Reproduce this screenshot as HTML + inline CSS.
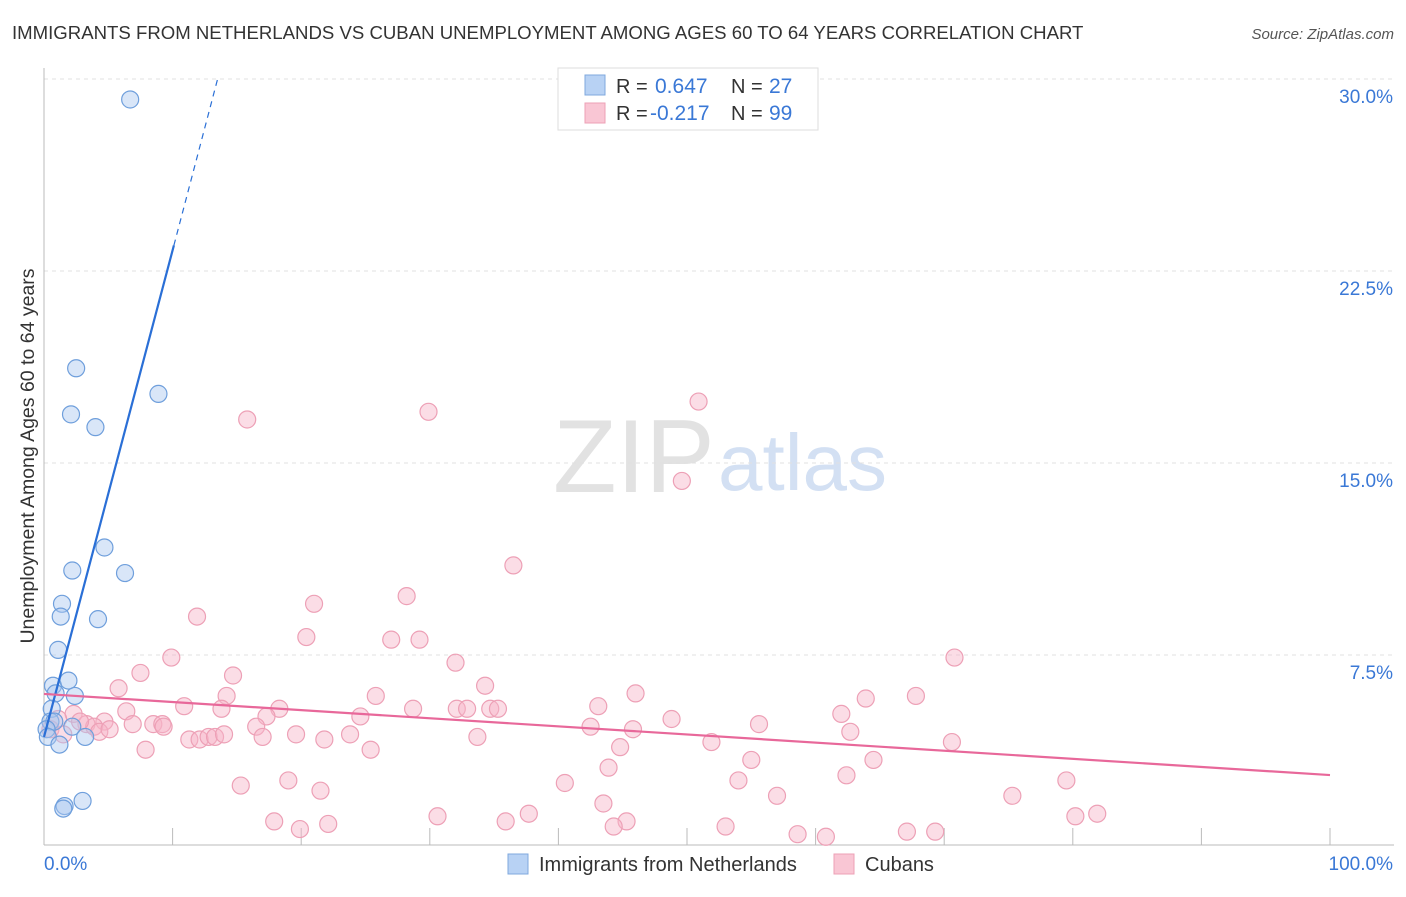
<!DOCTYPE html>
<html><head><meta charset="utf-8"><style>
body{margin:0;background:#fff;font-family:"Liberation Sans",sans-serif}
svg text{font-family:"Liberation Sans",sans-serif}
</style></head><body>
<svg id="chart" width="1406" height="892">
<text x="12" y="39" font-size="18.6" fill="#333">IMMIGRANTS FROM NETHERLANDS VS CUBAN UNEMPLOYMENT AMONG AGES 60 TO 64 YEARS CORRELATION CHART</text>
<text x="1394" y="39" font-size="15" fill="#555" text-anchor="end" font-style="italic">Source: ZipAtlas.com</text>
<text x="553" y="492" font-size="104" fill="#e2e2e2" font-family="Liberation Serif">ZIP</text>
<text x="718" y="490" font-size="80" fill="#d3e0f3">atlas</text>
<g id="grid"></g><g id="axes"></g><g id="pts"></g><g id="lines"></g>
<text x="34" y="456" font-size="19.5" fill="#333" text-anchor="middle" transform="rotate(-90 34 456)">Unemployment Among Ages 60 to 64 years</text>
<g>
<rect x="558" y="68" width="260" height="62" fill="#fff" stroke="#ddd"/>
<rect x="585" y="75" width="20" height="20" fill="#b8d2f4" stroke="#7fa8de"/>
<rect x="585" y="103" width="20" height="20" fill="#f9c6d4" stroke="#eda0b6"/>
<text x="616" y="93" font-size="20" fill="#333">R =</text><text x="655" y="93" font-size="21" fill="#3a78d6">0.647</text>
<text x="731" y="93" font-size="20" fill="#333">N =</text><text x="769" y="93" font-size="21" fill="#3a78d6">27</text>
<text x="616" y="120" font-size="20" fill="#333">R =</text><text x="650" y="120" font-size="21" fill="#3a78d6">-0.217</text>
<text x="731" y="120" font-size="20" fill="#333">N =</text><text x="769" y="120" font-size="21" fill="#3a78d6">99</text>
</g>
<g>
<rect x="508" y="854" width="20" height="20" fill="#b8d2f4" stroke="#7fa8de"/>
<text x="539" y="871" font-size="20" fill="#333">Immigrants from Netherlands</text>
<rect x="834" y="854" width="20" height="20" fill="#f9c6d4" stroke="#eda0b6"/>
<text x="865" y="871" font-size="20" fill="#333">Cubans</text>
</g>
</svg>
<script>
const yTicks=[7.5,15,22.5,30];
const yTickLabels=["7.5%","15.0%","22.5%","30.0%"];
const xTickLabels=["0.0%","100.0%"];
const blueX=[6.7,2.5,2.1,8.9,4.0,4.7,2.2,6.3,1.4,1.3,4.2,1.1,0.7,1.9,0.9,2.4,0.6,0.5,0.8,0.2,2.2,3.2,0.3,1.2,1.6,1.5,3.0];
const blueY=[29.2,18.7,16.9,17.7,16.4,11.7,10.8,10.7,9.5,9.0,8.9,7.7,6.3,6.5,6.0,5.9,5.4,4.9,4.9,4.6,4.7,4.3,4.3,4.0,1.6,1.5,1.8];
const pinkX=[15.8,29.9,50.9,49.6,36.5,11.9,21.0,28.2,20.4,27.0,29.2,9.9,7.5,32.0,70.8,14.7,5.8,34.3,14.2,25.8,46.0,67.8,63.9,10.9,18.3,13.8,28.7,32.1,32.9,34.7,35.3,43.1,6.4,2.3,1.1,24.6,17.3,62.0,3.3,4.7,6.9,8.5,9.2,9.3,16.5,48.8,55.6,42.5,45.8,3.9,4.3,23.8,19.6,11.3,12.1,12.8,13.3,21.8,33.7,62.7,51.9,70.6,7.9,25.4,44.8,55.0,64.5,43.9,15.3,19.0,54.0,62.4,40.5,79.5,21.5,57.0,75.3,43.5,37.7,30.6,81.9,80.2,17.9,35.9,45.3,44.3,22.1,53.0,19.9,67.1,69.3,58.6,60.8,0.5,1.5,2.8,5.1,14.0,17.0];
const pinkY=[16.7,17.0,17.4,14.3,11.0,9.0,9.5,9.8,8.2,8.1,8.1,7.4,6.8,7.2,7.4,6.7,6.2,6.3,5.9,5.9,6.0,5.9,5.8,5.5,5.4,5.4,5.4,5.4,5.4,5.4,5.4,5.5,5.3,5.2,5.0,5.1,5.1,5.2,4.8,4.9,4.8,4.8,4.8,4.7,4.7,5.0,4.8,4.7,4.6,4.7,4.5,4.4,4.4,4.2,4.2,4.3,4.3,4.2,4.3,4.5,4.1,4.1,3.8,3.8,3.9,3.4,3.4,3.1,2.4,2.6,2.6,2.8,2.5,2.6,2.2,2.0,2.0,1.7,1.3,1.2,1.3,1.2,1.0,1.0,1.0,0.8,0.9,0.8,0.7,0.6,0.6,0.5,0.4,4.6,4.4,4.9,4.6,4.4,4.3];
const blueTrend=[[0,4.3],[10.1,23.5],[13.5,30]];
const pinkTrend=[[0,5.98],[100,2.81]];
const X=v=>44+v*12.86, Y=v=>847-v*25.6;
const NS="http://www.w3.org/2000/svg";
function mk(p,t,a){const e=document.createElementNS(NS,t);for(const k in a)e.setAttribute(k,a[k]);document.getElementById(p).appendChild(e);return e;}
yTicks.forEach((t,i)=>{
 const l=mk('grid','line',{x1:44,x2:1394,y1:Y(t),y2:Y(t),stroke:'#e0e0e0','stroke-dasharray':'4,4'});
 
 
 const tx=mk('grid','text',{x:1393,y:Y(t)+24,'font-size':19,fill:'#3a78d6','text-anchor':'end'});
 tx.textContent=yTickLabels[i];
 
 
});
let a=mk('axes','line',{x1:44,x2:44,y1:68,y2:845,stroke:'#bbb'});


a=mk('axes','line',{x1:44,x2:1394,y1:845,y2:845,stroke:'#bbb'});


for(let i=1;i<=10;i++){const t=mk('axes','line',{x1:X(i*10),x2:X(i*10),y1:828,y2:845,stroke:'#bbb'});
 
 }
[[0,44,'start'],[1,1393,'end']].forEach(([i,x,an])=>{const t=mk('axes','text',{x:x,y:870,'font-size':19,fill:'#3a78d6','text-anchor':an});t.textContent=xTickLabels[i];
 
 });
pinkX.forEach((v,i)=>{const c=mk('pts','circle',{cx:X(v),cy:Y(pinkY[i]),r:8.5,fill:'rgba(246,180,200,0.45)',stroke:'#eda0b6','stroke-width':1.2});
 
 });
blueX.forEach((v,i)=>{const c=mk('pts','circle',{cx:X(v),cy:Y(blueY[i]),r:8.5,fill:'rgba(170,200,240,0.45)',stroke:'#6f9fdc','stroke-width':1.2});
 
 });
let l=mk('lines','line',{x1:X(blueTrend[0][0]),y1:Y(blueTrend[0][1]),x2:X(blueTrend[1][0]),y2:Y(blueTrend[1][1]),stroke:'#2a6fd6','stroke-width':2.2});


l=mk('lines','line',{x1:X(blueTrend[1][0]),y1:Y(blueTrend[1][1]),x2:X(blueTrend[2][0]),y2:Y(blueTrend[2][1]),stroke:'#2a6fd6','stroke-width':1.2,'stroke-dasharray':'6,5'});


l=mk('lines','line',{x1:X(pinkTrend[0][0]),y1:Y(pinkTrend[0][1]),x2:X(pinkTrend[1][0]),y2:Y(pinkTrend[1][1]),stroke:'#e8689a','stroke-width':2.2});


</script>
</body></html>
